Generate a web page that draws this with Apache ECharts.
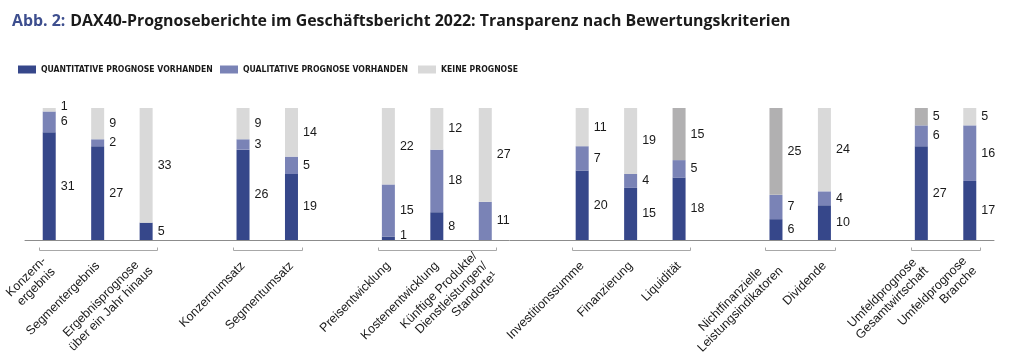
<!DOCTYPE html>
<html>
<head>
<meta charset="utf-8">
<script src="https://cdn.jsdelivr.net/npm/echarts@6/dist/echarts.min.js"></script>
<style>
html,body{margin:0;padding:0;background:#fff;}
#chart{width:1024px;height:362px;}
</style>
</head>
<body>
<div id="chart"></div>
<script>
// ---- data ----
const categories = ['Konzern-\nergebnis', 'Segmentergebnis', 'Ergebnisprognose\nüber ein Jahr hinaus',
  'Konzernumsatz', 'Segmentumsatz',
  'Preisentwicklung', 'Kostenentwicklung', 'Künftige Produkte/\nDienstleistungen/\nStandorte¹',
  'Investitionssumme', 'Finanzierung', 'Liquidität',
  'Nichtfinanzielle\nLeistungsindikatoren', 'Dividende',
  'Umfeldprognose\nGesamtwirtschaft', 'Umfeldprognose\nBranche'];
const groupSizes = [3, 2, 3, 3, 2, 2];
const quantitative = [31, 27, 5, 26, 19, 1, 8, null, 20, 15, 18, 6, 10, 27, 17];
const qualitative = [6, 2, null, 3, 5, 15, 18, 11, 7, 4, 5, 7, 4, 6, 16];
const keinePrognose = [1, 9, 33, 9, 14, 22, 12, 27, 11, 19, 15, 25, 24, 5, 5];
const seriesNames = ['QUANTITATIVE PROGNOSE VORHANDEN', 'QUALITATIVE PROGNOSE VORHANDEN', 'KEINE PROGNOSE'];
const darkGreyCategories = ['Liquidität', 'Nichtfinanzielle\nLeistungsindikatoren', 'Umfeldprognose\nGesamtwirtschaft'];
const rightAlignedLabels = ['Künftige Produkte/\nDienstleistungen/\nStandorte¹', 'Umfeldprognose\nBranche'];
const titlePrefix = 'Abb. 2:';
const titleText = 'DAX40-Prognoseberichte im Geschäftsbericht 2022: Transparenz nach Bewertungskriterien';

// ---- styles ----
const C_QUANT = '#36478a';
const C_QUAL = '#7a83b6';
const C_NONE = '#d9d9d9';
const C_NONE_DARK = '#b1b0b1';
const FONT = '"Liberation Sans", Arial, sans-serif';
const BAR_W = 13;

// build padded category axis with gaps between groups
const xCats = [];
const srcIndex = [];
const brackets = [];
let k = 0, gap = 0;
groupSizes.forEach((n, g) => {
  if (g > 0) { gap++; xCats.push(' '.repeat(gap)); srcIndex.push(-1); }
  const start = xCats.length;
  for (let i = 0; i < n; i++) { xCats.push(categories[k]); srcIndex.push(k); k++; }
  brackets.push([start, xCats.length - 1, 0]);
});
function pad(arr) { return srcIndex.map(i => i < 0 ? null : arr[i]); }

function labelOpt() {
  return {
    show: true, position: 'right', distance: 5,
    color: '#1a1a1a', fontFamily: FONT, fontSize: 12.5,
    formatter: p => (p.value == null ? '' : String(p.value))
  };
}
function mkData(arr, colorFn) {
  return pad(arr).map((v, i) => {
    if (v == null) return { value: null, label: { show: false } };
    const item = { value: v };
    if (v <= 1) item.label = { offset: [0, -3] };
    if (colorFn) { const c = colorFn(i); if (c) item.itemStyle = { color: c }; }
    return item;
  });
}

const chart = echarts.init(document.getElementById('chart'), null, { renderer: 'canvas' });
const legendBase = (name, left) => ({
  data: [name], left: left, top: 65, padding: 0, itemWidth: 18, itemHeight: 8, icon: 'rect',
  selectedMode: false,
  textStyle: { fontFamily: '"DejaVu Sans Condensed", "Liberation Sans Narrow", sans-serif', fontWeight: 'bold', fontSize: 8.6, color: '#1a1a1a' }
});
const axisLabelStyle = { fontFamily: FONT, fontSize: 12.5, color: '#1a1a1a', lineHeight: 14 };

chart.setOption({
  animation: false,
  backgroundColor: '#fff',
  title: {
    left: 7, top: 7,
    text: '{a|' + titlePrefix + '} {b|' + titleText + '}',
    textStyle: {
      rich: {
        a: { color: '#3d4e8e', fontWeight: 'bold', fontSize: 15.9, fontFamily: '"Open Sans", sans-serif' },
        b: { color: '#1a1a1a', fontWeight: 'bold', fontSize: 15.9, fontFamily: '"Open Sans", sans-serif' }
      }
    }
  },
  legend: [legendBase(seriesNames[0], 18), legendBase(seriesNames[1], 220), legendBase(seriesNames[2], 418)],
  grid: { left: 25, right: 30, top: 108, bottom: 122, containLabel: false },
  xAxis: {
    type: 'category', data: xCats,
    axisLine: { show: true, lineStyle: { color: '#8c8c8c', width: 1 } },
    axisTick: { show: false },
    axisLabel: {
      interval: 0, rotate: 45, margin: 24,
      formatter: v => {
        const st = rightAlignedLabels.indexOf(v) >= 0 ? 'r' : 'c';
        return v.split('\n').map(s => '{' + st + '|' + s + '}').join('\n');
      },
      rich: {
        c: Object.assign({ align: 'center' }, axisLabelStyle),
        r: Object.assign({ align: 'right' }, axisLabelStyle)
      }
    }
  },
  yAxis: { type: 'value', min: 0, max: 38, show: false, splitLine: { show: false } },
  series: [
    { name: seriesNames[0], type: 'bar', stack: 'total', barWidth: BAR_W, itemStyle: { color: C_QUANT },
      label: labelOpt(), data: mkData(quantitative) },
    { name: seriesNames[1], type: 'bar', stack: 'total', barWidth: BAR_W, itemStyle: { color: C_QUAL },
      label: labelOpt(), data: mkData(qualitative) },
    { name: seriesNames[2], type: 'bar', stack: 'total', barWidth: BAR_W, itemStyle: { color: C_NONE },
      label: labelOpt(),
      data: mkData(keinePrognose, i => darkGreyCategories.indexOf(xCats[i]) >= 0 ? C_NONE_DARK : null) },
    { type: 'custom', silent: true, clip: false, data: brackets, encode: { x: [0, 1], y: 2 },
      renderItem: (params, api) => {
        const p1 = api.coord([api.value(0), 0]);
        const p2 = api.coord([api.value(1), 0]);
        const y = Math.round(p1[1] + 10) + 0.5;
        const ext = BAR_W / 2 + 4;
        const x1 = Math.round(p1[0] - ext) + 0.5, x2 = Math.round(p2[0] + ext) + 0.5;
        return { type: 'polyline', shape: { points: [[x1, y - 3], [x1, y], [x2, y], [x2, y - 3]] },
          style: { stroke: '#a8a8a8', lineWidth: 1, fill: null } };
      } }
  ]
});
</script>
</body>
</html>
